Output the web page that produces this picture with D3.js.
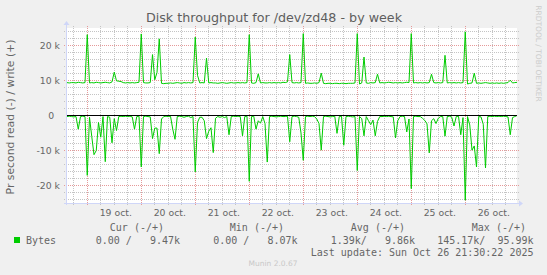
<!DOCTYPE html>
<html>
<head>
<meta charset="utf-8">
<script src="https://cdn.jsdelivr.net/npm/d3@7"></script>
<style>
  body { margin: 0; background: #f0f0f0; }
  svg { display: block; font-family: "DejaVu Sans", sans-serif; }
  .mono { font-family: "DejaVu Sans Mono", monospace; white-space: pre; }
</style>
</head>
<body>
<div id="myChart"></div>
<script>
// one sample per hour, starting Oct 18 15:00 (values in k bytes / second)
let startTime = new Date(2025, 9, 18, 15, 0, 0);
let endTime = new Date(2025, 9, 26, 23, 0, 0);

let writeValues = [
  9.4, 9.3, 9.4, 9.4, 9.3, 9.5, 9.4, 9.3, 9.4, 23.1,
  9.3, 9.4, 9.3, 9.5, 9.4, 9.3, 9.4, 9.5, 9.4, 9.3,
  9.6, 12.4, 9.9, 9.8, 9.7, 9.4, 9.3, 9.4, 9.3, 9.4,
  9.3, 9.4, 9.5, 23.3, 9.4, 9.3, 9.3, 9.4, 17.4, 10.2,
  12.3, 21.9, 9.2, 9.1, 9.2, 9.2, 9.3, 9.2, 9.3, 9.4,
  9.3, 9.2, 9.4, 9.3, 9.4, 9.3, 9.4, 22.4, 11.5, 9.3,
  9.4, 9.3, 16.4, 9.3, 9.4, 9.3, 9.3, 9.2, 9.3, 9.4,
  9.3, 9.2, 9.3, 9.4, 9.3, 9.3, 9.4, 9.3, 9.4, 9.3,
  9.4, 23.1, 9.3, 9.2, 9.4, 11.9, 9.3, 9.4, 9.3, 9.3,
  9.4, 9.3, 9.4, 9.3, 9.4, 9.3, 9.5, 9.4, 9.6, 17.4,
  9.4, 9.3, 9.4, 9.3, 9.4, 23.4, 9.2, 9.3, 9.2, 9.2,
  9.3, 9.2, 9.4, 12.1, 9.2, 9.1, 9.2, 9.2, 9.1, 9.2,
  9.2, 9.1, 9.2, 9.2, 9.1, 9.2, 9.2, 9.2, 9.3, 23.4,
  9.0, 9.3, 16.7, 9.3, 9.2, 9.4, 9.3, 9.4, 11.8, 9.3,
  9.4, 9.3, 9.4, 9.5, 9.4, 9.3, 9.4, 9.3, 9.4, 9.3,
  9.4, 9.5, 9.4, 23.4, 9.3, 9.4, 9.3, 9.4, 9.3, 9.4,
  9.3, 9.4, 11.8, 9.4, 9.3, 9.4, 9.3, 9.4, 17.2, 9.3,
  9.4, 9.3, 9.4, 9.3, 9.4, 9.3, 9.4, 23.9, 9.0, 9.2,
  9.3, 12.1, 9.2, 9.3, 9.2, 9.3, 9.4, 9.3, 9.2, 9.3,
  9.2, 9.3, 9.2, 9.3, 9.2, 9.3, 9.4, 10.1, 9.3, 9.4,
  9.47
];

// read is drawn below zero
let readValues = [
  0.3, 0.2, 0.3, 0.4, 0.3, 3.9, 0.3, 0.2, 0.3, 17.1,
  0.5, 6.0, 11.2, 10.0, 2.0, 6.2, 0.3, 13.2, 0.3, 0.5,
  7.8, 0.9, 4.3, 0.3, 0.2, 0.3, 0.2, 0.3, 0.2, 0.4,
  3.9, 0.3, 0.2, 14.7, 0.3, 0.2, 0.3, 0.4, 6.6, 3.6,
  3.6, 10.9, 1.0, 0.3, 0.2, 0.3, 0.2, 3.9, 6.8, 0.3,
  0.2, 0.3, 0.5, 0.3, 0.2, 0.6, 0.3, 16.1, 2.0, 0.5,
  0.5, 1.5, 6.6, 4.5, 3.5, 10.6, 0.8, 0.3, 0.5, 0.3,
  0.6, 0.3, 5.5, 0.3, 0.2, 0.3, 0.2, 0.3, 5.8, 0.3,
  0.2, 18.8, 0.3, 0.2, 3.9, 1.5, 2.2, 0.3, 2.3, 13.3,
  0.3, 0.2, 0.3, 0.4, 0.3, 0.2, 0.3, 0.3, 0.2, 7.5,
  0.3, 0.2, 0.3, 0.5, 5.0, 12.8, 0.3, 0.2, 0.3, 0.2,
  0.3, 1.0, 2.3, 9.9, 0.3, 0.2, 0.3, 0.4, 0.3, 0.2,
  5.1, 0.3, 0.2, 8.5, 0.3, 0.2, 0.3, 0.4, 0.3, 15.7,
  0.3, 0.9, 5.8, 0.3, 1.5, 2.6, 1.3, 5.8, 1.7, 0.3,
  0.3, 0.2, 0.3, 0.2, 0.3, 0.4, 6.4, 1.5, 0.3, 0.2,
  0.3, 4.7, 1.0, 20.9, 0.3, 0.2, 0.3, 0.3, 0.8, 1.4,
  2.4, 10.7, 1.5, 0.9, 2.3, 0.8, 0.3, 0.3, 5.9, 0.3,
  0.2, 0.5, 3.0, 0.3, 0.2, 5.5, 0.6, 24.2, 0.3, 2.7,
  9.9, 8.7, 14.7, 0.3, 0.4, 2.5, 15.0, 0.3, 0.2, 0.3,
  0.2, 0.3, 0.2, 0.3, 0.2, 0.3, 0.4, 5.5, 0.6, 0.3,
  0.0
];

let dayLabels = ["19 oct.", "20 oct.", "21 oct.", "22 oct.", "23 oct.", "24 oct.", "25 oct.", "26 oct."];
let yTicks = [-20000, -10000, 0, 10000, 20000];
let yTickLabels = ["-20 k", "-10 k", "0  ", "10 k", "20 k"];

let legendHeaders = ["Cur (-/+)", "Min (-/+)", "Avg (-/+)", "Max (-/+)"];
let legendValues = ["0.00 /   9.47k", "0.00 /   8.07k", "1.39k/   9.86k", "145.17k/  95.99k"];
let seriesName = "Bytes";
let lastUpdate = "Last update: Sun Oct 26 21:30:22 2025";

// set the dimensions and margins of the graph
let margin = {top: 28, right: 30, bottom: 72, left: 67},
    width = 450,
    height = 175;

let svg = d3.select("#myChart")
  .append("svg")
    .attr("width", 547)
    .attr("height", 275);

svg.append("rect")
    .attr("width", 547)
    .attr("height", 275)
    .attr("fill", "#f0f0f0");

let g = svg.append("g")
    .attr("transform", "translate(" + margin.left + "," + margin.top + ")");

let x = d3.scaleTime()
  .domain([startTime, endTime])
  .range([0, width]);

let y = d3.scaleLinear()
  .domain([-25000, 25000])
  .range([height, 0]);

let hourTime = function(i) { return d3.timeHour.offset(startTime, i); };
let px = function(v) { return Math.floor(v) + 0.5; };

// canvas
g.append("rect")
    .attr("x", -0.5)
    .attr("width", width + 0.5)
    .attr("height", height)
    .attr("fill", "#ffffff");

// grid, dotted 1px on / 1px off
let minorY = d3.range(-24000, 24001, 2000).filter(function(d) { return d % 10000 !== 0; });
let majorY = yTicks.filter(function(d) { return d !== 0; });
let minorX = d3.timeHour.every(6).range(startTime, endTime).filter(function(d) { return d.getHours() !== 0; });
let majorX = d3.timeDay.range(startTime, endTime);

let grid = g.append("g");

function hLines(vals, color) {
  grid.selectAll(null).data(vals).enter().append("line")
      .attr("x1", -3).attr("x2", width + 2)
      .attr("y1", function(d) { return px(y(d)); })
      .attr("y2", function(d) { return px(y(d)); })
      .attr("stroke", color)
      .attr("stroke-width", 1)
      .attr("stroke-dasharray", "1 1");
}
function vLines(vals, color) {
  grid.selectAll(null).data(vals).enter().append("line")
      .attr("y1", -2).attr("y2", height + 3)
      .attr("x1", function(d) { return px(x(d)); })
      .attr("x2", function(d) { return px(x(d)); })
      .attr("stroke", color)
      .attr("stroke-width", 1)
      .attr("stroke-dasharray", "1 1");
}
hLines(minorY, "#c4c4c4");
vLines(minorX, "#c4c4c4");
hLines(majorY, "#e59999");
vLines(majorX, "#e59999");

// axis lines and arrows
let axisColor = "#cfd6f8";
g.append("line")
    .attr("x1", -0.5).attr("x2", -0.5)
    .attr("y1", height + 2).attr("y2", -4)
    .attr("stroke", axisColor)
    .attr("shape-rendering", "crispEdges");
g.append("line")
    .attr("x1", -3).attr("x2", width + 3)
    .attr("y1", height + 0.5).attr("y2", height + 0.5)
    .attr("stroke", axisColor)
    .attr("shape-rendering", "crispEdges");
g.append("path")
    .attr("d", "M-3.5,-3 L-0.5,-7 L2.5,-3 Z")
    .attr("fill", axisColor);
g.append("path")
    .attr("d", "M" + (width + 2) + "," + (height - 2.5) + " L" + (width + 6) + "," + (height + 0.5) + " L" + (width + 2) + "," + (height + 3.5) + " Z")
    .attr("fill", axisColor);

// x axis labels at noon of each day
let xAxis = g.append("g")
    .attr("transform", "translate(1," + height + ")")
    .call(d3.axisBottom(x)
      .tickValues(majorX.map(function(d) { return d3.timeHour.offset(d, 12); }))
      .tickFormat(function(d, i) { return dayLabels[i]; })
      .tickSize(0)
      .tickPadding(4));
xAxis.select(".domain").remove();
xAxis.selectAll("text")
    .attr("font-family", "DejaVu Sans")
    .attr("font-size", "9.3px")
    .attr("fill", "#666666")
    .attr("dy", "0.71em")
    .attr("y", 6.5);

// y axis labels
let yAxis = g.append("g")
    .call(d3.axisLeft(y)
      .tickValues(yTicks)
      .tickFormat(function(d, i) { return yTickLabels[i]; })
      .tickSize(0)
      .tickPadding(7));
yAxis.select(".domain").remove();
yAxis.selectAll("text")
    .attr("font-family", "DejaVu Sans")
    .attr("font-size", "9.3px")
    .attr("fill", "#666666")
    .style("white-space", "pre");

// series
let writeLine = d3.line()
  .x(function(d, i) { return x(hourTime(i)); })
  .y(function(d) { return y(d * 1000); });
let readLine = d3.line()
  .x(function(d, i) { return x(hourTime(i)); })
  .y(function(d) { return y(-d * 1000); });

g.append("path")
    .datum(readValues)
    .attr("d", readLine)
    .attr("fill", "none")
    .attr("stroke", "#00cc00")
    .attr("stroke-width", 1);
g.append("path")
    .datum(writeValues)
    .attr("d", writeLine)
    .attr("fill", "none")
    .attr("stroke", "#00cc00")
    .attr("stroke-width", 1);

// zero line
g.append("line")
    .attr("x1", 0).attr("x2", width)
    .attr("y1", px(y(0))).attr("y2", px(y(0)))
    .attr("stroke", "#000000")
    .attr("shape-rendering", "crispEdges");

// title
svg.append("text")
    .attr("x", 274)
    .attr("y", 22)
    .attr("text-anchor", "middle")
    .attr("font-size", "12.7px")
    .attr("fill", "#5e5e5e")
    .text("Disk throughput for /dev/zd48 - by week");

// vertical label
svg.append("text")
    .attr("transform", "translate(14,117) rotate(-90)")
    .attr("text-anchor", "middle")
    .attr("font-size", "10.8px")
    .attr("fill", "#666666")
    .text("Pr second read (-) / write (+)");

// watermarks
svg.append("text")
    .attr("transform", "translate(535.5,53.5) rotate(90)")
    .attr("text-anchor", "middle")
    .attr("font-size", "7.5px")
    .attr("fill", "#cccccc")
    .text("RRDTOOL / TOBI OETIKER");
svg.append("text")
    .attr("x", 273)
    .attr("y", 266)
    .attr("text-anchor", "middle")
    .attr("font-size", "7.5px")
    .attr("fill", "#c8c8c8")
    .text("Munin 2.0.67");

// legend
let headerEnds = [164, 284, 405, 526];
let valueEnds = [180, 297.5, 415, 533.5];

svg.selectAll(null).data(legendHeaders).enter().append("text")
    .attr("class", "mono")
    .attr("x", function(d, i) { return headerEnds[i]; })
    .attr("y", 230.5)
    .attr("text-anchor", "end")
    .attr("font-size", "10px")
    .attr("fill", "#666666")
    .text(function(d) { return d; });

svg.selectAll(null).data(legendValues).enter().append("text")
    .attr("class", "mono")
    .attr("x", function(d, i) { return valueEnds[i]; })
    .attr("y", 243.5)
    .attr("text-anchor", "end")
    .attr("font-size", "10px")
    .attr("fill", "#666666")
    .text(function(d) { return d; });

svg.append("rect")
    .attr("x", 14).attr("y", 237)
    .attr("width", 6).attr("height", 6)
    .attr("fill", "#00cc00");
svg.append("text")
    .attr("class", "mono")
    .attr("x", 26)
    .attr("y", 243.5)
    .attr("font-size", "10px")
    .attr("fill", "#666666")
    .text(seriesName);

svg.append("text")
    .attr("class", "mono")
    .attr("x", 533.5)
    .attr("y", 255.5)
    .attr("text-anchor", "end")
    .attr("font-size", "10px")
    .attr("fill", "#666666")
    .text(lastUpdate);
</script>
</body>
</html>
